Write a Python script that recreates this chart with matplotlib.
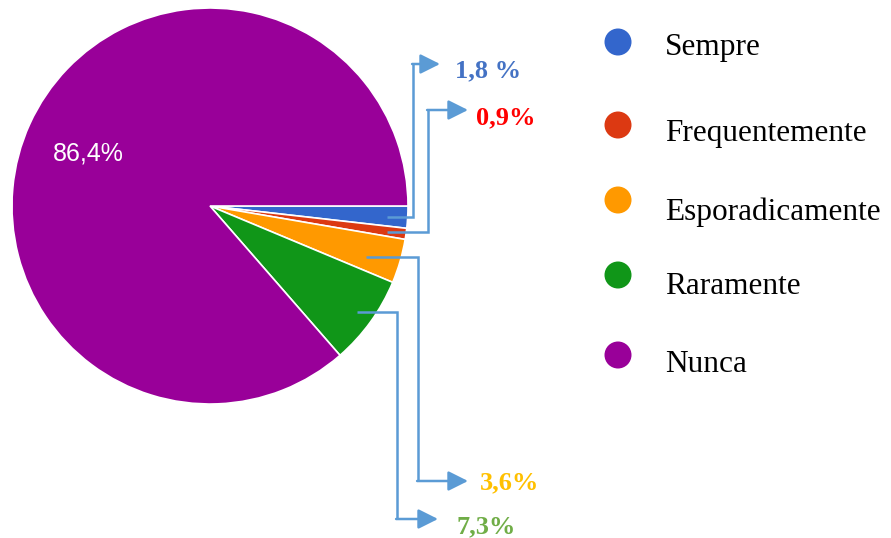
import matplotlib
matplotlib.use("Agg")
import matplotlib.pyplot as plt
from matplotlib.patches import Circle

categories = ["Sempre", "Frequentemente", "Esporadicamente", "Raramente", "Nunca"]
values = [1.8, 0.9, 3.6, 7.3, 86.4]
value_labels = ["1,8 %", "0,9%", "3,6%", "7,3%", "86,4%"]
colors = ["#3366cc", "#dc3912", "#ff9900", "#109618", "#990099"]
label_colors = ["#4472c4", "#ff0000", "#ffc000", "#70ad47"]

W, H = 891, 538
fig = plt.figure(figsize=(W / 100, H / 100), dpi=100)
ax = fig.add_axes([0, 0, 1, 1])
ax.set_xlim(0, W)
ax.set_ylim(H, 0)
ax.set_aspect("equal")
ax.axis("off")

cx, cy, r = 210, 206, 198
ax.pie(values, colors=colors, startangle=0, counterclock=True,
       center=(cx, cy), radius=r, frame=True,
       wedgeprops=dict(edgecolor="white", linewidth=1.2))
ax.set_xlim(0, W)
ax.set_ylim(H, 0)
ax.axis("off")

ax.text(88, 153, value_labels[4], color="white", fontsize=18,
        family="Liberation Sans", ha="center", va="center")

line_c = "#5b9bd5"
# connector paths: (start point, elbow x, target y, arrow end x, label x, label y)
connectors = [
    ((387, 217), 413, 64, 440, 455, 71),
    ((387, 232), 428, 110, 468, 476, 118),
    ((366, 257), 418, 481, 468, 480, 483),
    ((357, 312), 397, 519, 438, 457, 527),
]
for i, ((sx, sy), ex, ty, ax_end, lx, ly) in enumerate(connectors):
    ax.plot([sx, ex, ex], [sy, sy, ty], color=line_c, lw=1.8,
            solid_joinstyle="miter", solid_capstyle="butt")
    ax.annotate("", xy=(ax_end, ty), xytext=(ex - 0.9, ty),
                arrowprops=dict(arrowstyle="-|>,head_length=1.2,head_width=0.6",
                                color=line_c, lw=1.8, shrinkA=0, shrinkB=0))
    ax.text(lx, ly, value_labels[i], color=label_colors[i], fontsize=19,
            family="Liberation Serif", fontweight="bold", ha="left", va="center")

leg_y_circ = [42, 125, 200, 275, 355]
leg_y_text = [48, 134, 212, 286, 364]
for i, cat in enumerate(categories):
    ax.add_patch(Circle((618, leg_y_circ[i]), 13.5, color=colors[i], lw=0))
    ax.text(665, leg_y_text[i], cat, color="black", fontsize=22.5,
            family="Liberation Serif", ha="left", va="center")

fig.savefig("out.png", dpi=100)
